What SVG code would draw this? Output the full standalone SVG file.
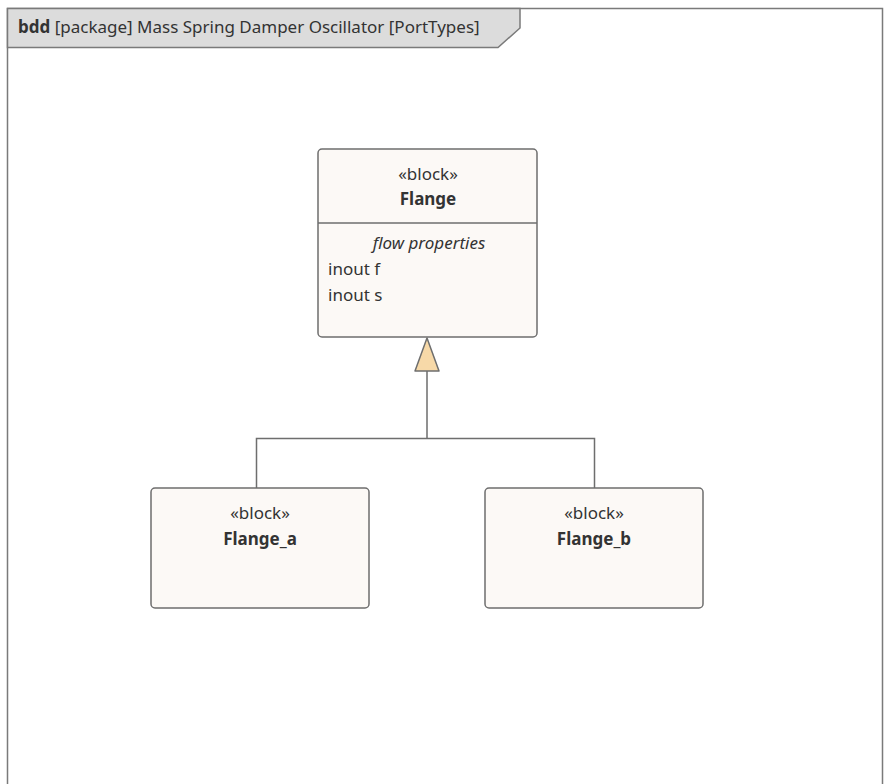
<svg xmlns="http://www.w3.org/2000/svg" width="885" height="784" viewBox="0 0 885 784">
<style>
text{font-family:"Noto Sans","Open Sans","Liberation Sans",sans-serif;font-size:17px;fill:#333333}
.c{text-anchor:middle}
.b{font-weight:bold}
.i{font-style:italic}
.blk{fill:#fcf9f6;stroke:#6e6e6e;stroke-width:1.5}
.ln{fill:none;stroke:#6e6e6e;stroke-width:1.5}
</style>
<rect x="0" y="0" width="885" height="784" fill="#ffffff"/>
<g id="frame">
<path d="M7.5 784 V8.5 H882.5 V784" fill="none" stroke="#7a7a7a" stroke-width="1.5"/>
<path d="M7.5 8.5 H520 V28 L498 47.5 H7.5 Z" fill="#dcdcdc" stroke="#7a7a7a" stroke-width="1.5"/>
<text x="18" y="33"><tspan class="b">bdd</tspan> [package] Mass Spring Damper Oscillator [PortTypes]</text>
</g>
<g id="connectors">
<path class="ln" d="M427 371 V438.5 M256.5 488 V438.5 H594.5 V488"/>
<path d="M427 338 L439 371 H415 Z" fill="#f7d9a8" stroke="#6e6e6e" stroke-width="1.5" stroke-linejoin="round"/>
</g>
<g id="Flange">
<rect class="blk" x="318" y="149" width="219" height="188" rx="4"/>
<line class="ln" x1="318" y1="223" x2="537" y2="223"/>
<text class="c" x="428" y="180">«block»</text>
<text class="c b" x="428" y="205">Flange</text>
<text class="c i" x="429" y="249">flow properties</text>
<text x="328" y="275">inout f</text>
<text x="328" y="301">inout s</text>
</g>
<g id="Flange_a">
<rect class="blk" x="151" y="488" width="218" height="120" rx="4"/>
<text class="c" x="260" y="519">«block»</text>
<text class="c b" x="260" y="545">Flange_a</text>
</g>
<g id="Flange_b">
<rect class="blk" x="485" y="488" width="218" height="120" rx="4"/>
<text class="c" x="594" y="519">«block»</text>
<text class="c b" x="594" y="545">Flange_b</text>
</g>
</svg>
